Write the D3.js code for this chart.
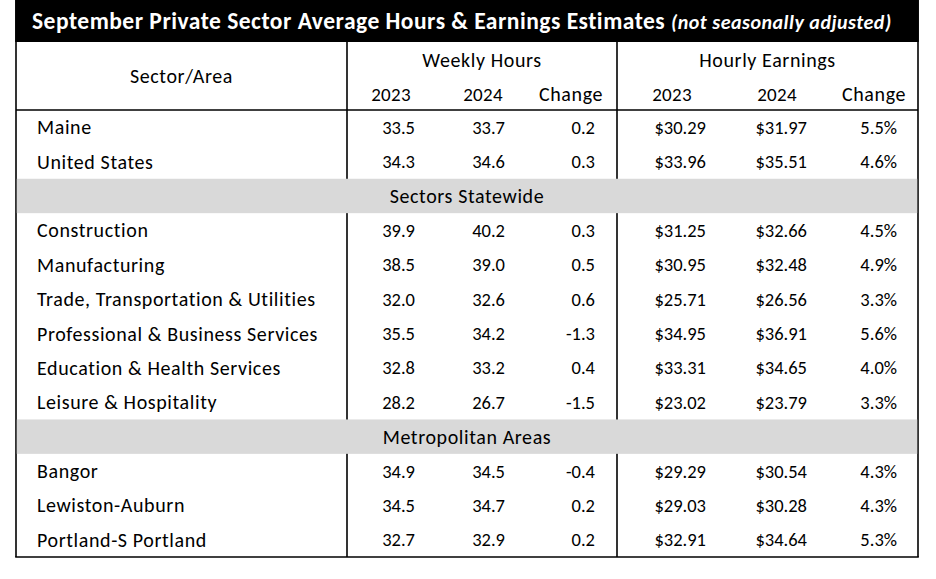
<!DOCTYPE html>
<html><head><meta charset="utf-8">
<script src="https://cdn.jsdelivr.net/npm/d3@7"></script>
<style>
html,body{margin:0;padding:0;background:#fff;}
svg text{font-family:Carlito,Calibri,Lato,"Noto Sans",sans-serif;}
</style></head>
<body><svg id="chart" width="936" height="579"></svg>
<script>
// ---- data ----
const titleMain = "September Private Sector Average Hours & Earnings Estimates";
const titleNote = "(not seasonally adjusted)";
const groupHeaders = ["Weekly Hours", "Hourly Earnings"];
const subHeaders = ["2023", "2024", "Change", "2023", "2024", "Change"];
const rowLabels = ["Maine","United States","Sectors Statewide","Construction","Manufacturing",
  "Trade, Transportation & Utilities","Professional & Business Services","Education & Health Services",
  "Leisure & Hospitality","Metropolitan Areas","Bangor","Lewiston-Auburn","Portland-S Portland"];
const rowKinds = ["data","data","section","data","data","data","data","data","data","section","data","data","data"];
const hours2023 = [33.5,34.3,null,39.9,38.5,32.0,35.5,32.8,28.2,null,34.9,34.5,32.7];
const hours2024 = [33.7,34.6,null,40.2,39.0,32.6,34.2,33.2,26.7,null,34.5,34.7,32.9];
const hoursChange = [0.2,0.3,null,0.3,0.5,0.6,-1.3,0.4,-1.5,null,-0.4,0.2,0.2];
const earn2023 = [30.29,33.96,null,31.25,30.95,25.71,34.95,33.31,23.02,null,29.29,29.03,32.91];
const earn2024 = [31.97,35.51,null,32.66,32.48,26.56,36.91,34.65,23.79,null,30.54,30.28,34.64];
const earnChange = [5.5,4.6,null,4.5,4.9,3.3,5.6,4.0,3.3,null,4.3,4.3,5.3];

// ---- layout ----
const W = 936, H = 579;
const L = 16, R = 918, titleBottom = 42, headBottom = 110, bottom = 557;
const div1 = 347, div2 = 617;
const FS_NUM = 18.5, FS_TXT = 20, LS_TXT = 0.6;
const svg = d3.select("#chart");
svg.append("rect").attr("width",W).attr("height",H).attr("fill","#fff");

const y = d3.scaleBand().domain(d3.range(rowLabels.length)).range([headBottom, bottom]).padding(0);
const sectionIdx = d3.range(rowLabels.length).filter(i => rowKinds[i] === "section");
const dataIdx = d3.range(rowLabels.length).filter(i => rowKinds[i] === "data");

// lines
const lines = svg.append("g").attr("stroke","#000").attr("stroke-width",1.6).attr("fill","none");
lines.append("line").attr("x1",L).attr("x2",L).attr("y1",0).attr("y2",bottom);
lines.append("line").attr("x1",R).attr("x2",R).attr("y1",0).attr("y2",bottom);
lines.append("line").attr("x1",div1).attr("x2",div1).attr("y1",titleBottom).attr("y2",bottom);
lines.append("line").attr("x1",div2).attr("x2",div2).attr("y1",titleBottom).attr("y2",bottom);
lines.append("line").attr("x1",L).attr("x2",R).attr("y1",headBottom).attr("y2",headBottom);
lines.append("line").attr("x1",L-0.8).attr("x2",R+0.8).attr("y1",bottom).attr("y2",bottom);

// gray section bands
svg.append("g").selectAll("rect").data(sectionIdx).join("rect")
  .attr("x", L+0.8).attr("width", R-L-1.6)
  .attr("y", i => y(i)).attr("height", y.bandwidth())
  .attr("fill","#d9d9d9");

// title band
svg.append("rect").attr("x",L-0.8).attr("y",0).attr("width",R-L+1.6).attr("height",titleBottom).attr("fill","#000");
const t = svg.append("text").attr("x",32).attr("y",29).attr("fill","#fff").attr("font-weight","bold")
  .attr("letter-spacing",0.5);
t.append("tspan").attr("font-size",23.5).text(titleMain + " ");
t.append("tspan").attr("font-size",20).attr("font-style","italic").text(titleNote);

// headers
const txt = svg.append("g").attr("fill","#000");
const lab = txt.append("g").attr("font-size",FS_TXT).attr("letter-spacing",LS_TXT);
lab.append("text").attr("x",(L+div1)/2).attr("y",(titleBottom+headBottom)/2).attr("dy","0.35em")
  .attr("text-anchor","middle").text("Sector/Area");
const groupCenters = [(div1+div2)/2, (div2+R)/2];
lab.selectAll(".gh").data(groupHeaders).join("text")
  .attr("x",(d,i)=>groupCenters[i]).attr("y",60).attr("dy","0.35em").attr("text-anchor","middle").text(d=>d);
const subCenters = [391, 483, 571, 672, 777, 874];
lab.selectAll(".sh").data(subHeaders).join("text")
  .attr("x",(d,i)=>subCenters[i]).attr("y",94).attr("dy","0.35em").attr("text-anchor","middle")
  .attr("font-size", d => /\d/.test(d) ? FS_NUM + 0.5 : FS_TXT)
  .attr("letter-spacing", d => /\d/.test(d) ? 0.3 : LS_TXT)
  .text(d=>d);

// rows
const cy = i => y(i) + y.bandwidth()/2;
lab.selectAll(".lab").data(dataIdx).join("text")
  .attr("x",37).attr("y",cy).attr("dy","0.35em").text(i=>rowLabels[i]);
lab.selectAll(".sec").data(sectionIdx).join("text")
  .attr("x",(L+R)/2).attr("y",cy).attr("dy","0.35em").attr("text-anchor","middle").text(i=>rowLabels[i]);

const f1 = v => v.toFixed(1), f2 = v => v.toFixed(2);
const cols = [
  {vals: hours2023, x: 415, fmt: f1},
  {vals: hours2024, x: 505, fmt: f1},
  {vals: hoursChange, x: 595, fmt: f1},
  {vals: earn2023, x: 706, fmt: v => "$" + f2(v)},
  {vals: earn2024, x: 807, fmt: v => "$" + f2(v)},
  {vals: earnChange, x: 897, fmt: v => f1(v) + "%"}
];
const nums = txt.append("g").attr("font-size",FS_NUM);
cols.forEach(c => {
  nums.append("g").selectAll("text").data(dataIdx).join("text")
    .attr("x", c.x).attr("y", cy).attr("dy","0.35em").attr("text-anchor","end")
    .text(i => c.fmt(c.vals[i]));
});
</script></body></html>
